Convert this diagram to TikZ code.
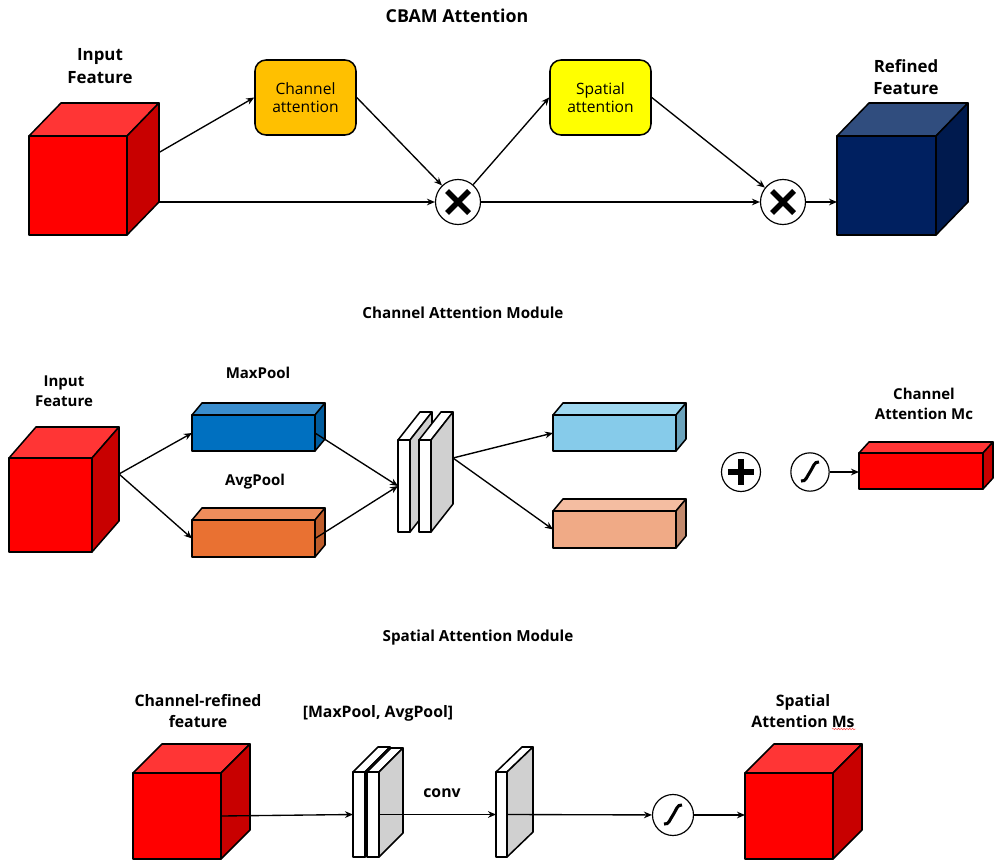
\documentclass[tikz,border=0pt]{standalone}
\usepackage{fontspec}
\setmainfont{Open Sans}
\usetikzlibrary{arrows.meta,decorations.pathmorphing}

% colour sets: F front, T top, S side
\definecolor{crF}{HTML}{FF0000}\definecolor{crT}{HTML}{FF3535}\definecolor{crS}{HTML}{C80000}
\definecolor{cnF}{HTML}{002060}\definecolor{cnT}{HTML}{304D7E}\definecolor{cnS}{HTML}{001A4E}
\definecolor{cbF}{HTML}{0070C0}\definecolor{cbT}{HTML}{3A8DCD}\definecolor{cbS}{HTML}{005C9E}
\definecolor{coF}{HTML}{E97132}\definecolor{coT}{HTML}{EE8D5C}\definecolor{coS}{HTML}{BE5C2A}
\definecolor{clF}{HTML}{86CBEA}\definecolor{clT}{HTML}{A0D8F0}\definecolor{clS}{HTML}{6BA3BC}
\definecolor{cpF}{HTML}{F0AA86}\definecolor{cpT}{HTML}{F4BDA1}\definecolor{cpS}{HTML}{C2896C}
\definecolor{cwF}{HTML}{FFFFFF}\definecolor{cwT}{HTML}{FFFFFF}\definecolor{cwS}{HTML}{D0D0D0}
\definecolor{chanfill}{HTML}{FFC000}
\definecolor{spatfill}{HTML}{FFFF00}

\tikzset{
  face/.style={line width=1.3pt, line join=round},
  conn/.style={-{Stealth[length=2.4mm,width=2mm]}, line width=1.15pt},
  ttl/.style={font=\bfseries\fontsize{13}{16}\selectfont},
  lbl/.style={font=\bfseries\fontsize{14.4}{19}\selectfont, align=center},
  lblm/.style={font=\bfseries\fontsize{12.8}{17.5}\selectfont, align=center},
  lbls/.style={font=\bfseries\fontsize{13.5}{17.5}\selectfont, align=center},
  attn/.style={draw, line width=1.3pt, rounded corners=0.33cm, minimum width=3.03cm,
    minimum height=2.25cm, align=center, font=\fontsize{13.3}{15.5}\selectfont},
  op/.style={circle, draw, fill=white, line width=1pt, inner sep=0pt},
  mult/.style={op, minimum size=1.35cm, path picture={
    \draw[line width=4.6pt] ([shift={(-11,-11)}]path picture bounding box.center)
      -- ([shift={(11,11)}]path picture bounding box.center);
    \draw[line width=4.6pt] ([shift={(-11,11)}]path picture bounding box.center)
      -- ([shift={(11,-11)}]path picture bounding box.center);}},
  plus/.style={op, minimum size=1.17cm, path picture={
    \draw[line width=4.5pt] ([shift={(-13,0)}]path picture bounding box.center)
      -- ([shift={(13,0)}]path picture bounding box.center);
    \draw[line width=4.5pt] ([shift={(0,-13)}]path picture bounding box.center)
      -- ([shift={(0,13)}]path picture bounding box.center);}},
  sigm/.style={op, minimum size=#1, path picture={
    \draw[line width=2.6pt] ([shift={(-9,9)}]path picture bounding box.center)
      .. controls ([shift={(-4,10)}]path picture bounding box.center)
      and ([shift={(-3,4)}]path picture bounding box.center)
      .. (path picture bounding box.center)
      .. controls ([shift={(3,-4)}]path picture bounding box.center)
      and ([shift={(4,-11)}]path picture bounding box.center)
      .. ([shift={(9,-10)}]path picture bounding box.center);}},
}

% name, x, y, w, h, dx, dy, colour set
\newcommand{\cuboid}[8]{%
  \node[inner sep=0pt, outer sep=0pt, minimum width=#4*0.03cm, minimum height=#5*0.03cm,
    anchor=north west] (#1) at (#2,#3) {};
  \node[inner sep=0pt, outer sep=0pt, minimum width=#4*0.03cm, minimum height=#5*0.03cm,
    anchor=north west] (#1b) at ({#2+#6},{#3+#7}) {};
  \filldraw[face, fill=#8T] (#1.north west) -- (#1b.north west) -- (#1b.north east)
    -- (#1.north east) -- cycle;
  \filldraw[face, fill=#8S] (#1.north east) -- (#1b.north east) -- (#1b.south east)
    -- (#1.south east) -- cycle;
  \filldraw[face, fill=#8F] (#1.north west) rectangle (#1.south east);
}

\begin{document}
\begin{tikzpicture}[x=0.03cm, y=-0.03cm]
\useasboundingbox[fill=white] (0,0) rectangle (1000,868);

% CBAM overview
\node[ttl, font=\bfseries\fontsize{15.2}{18}\selectfont] (title1) at (457,16) {CBAM Attention};
\node[lbl] (inlblA) at (100,66) {Input\\Feature};
\node[lbl] (outlblA) at (906,77) {Refined\\Feature};
\cuboid{inA}{29}{136}{98}{99}{32}{-33}{cr}
\cuboid{outA}{837}{136}{99}{99}{32}{-33}{cn}
\node[attn, fill=chanfill] (cha) at (305.5,97.5) {Channel\\attention};
\node[attn, fill=spatfill] (spa) at (600.5,97.5) {Spatial\\attention};
\node[mult] (m1) at (458,202) {};
\node[mult] (m2) at (783,202) {};
\draw[conn] (inAb.east) -- (cha.west);
\draw[conn] (inAb.south east) -- (m1);
\draw[conn] (cha.east) -- (m1);
\draw[conn] (m1) -- (spa.west);
\draw[conn] (m1) -- (m2);
\draw[conn] (spa.east) -- (m2);
\draw[conn] (m2) -- (m2 -| outA.west);

% channel attention module
\node[ttl] (title2) at (463,313) {Channel Attention Module};
\node[lblm] (inlblB) at (64,391) {Input\\Feature};
\node[lblm] (maxlbl) at (258,373) {MaxPool};
\node[lblm] (avglbl) at (255,482) {AvgPool};
\node[lblm] (mclbl) at (924,404) {Channel\\Attention Mc};
\cuboid{inB}{9}{458}{83}{94}{27}{-31}{cr}
\cuboid{maxp}{192}{415}{123}{36}{10}{-12}{cb}
\cuboid{avgp}{192}{520}{123}{37}{10}{-12}{co}
\cuboid{pl1}{398}{440}{12}{92}{22}{-28}{cw}
\cuboid{pl2}{419}{440}{12}{92}{22}{-28}{cw}
\cuboid{mlpa}{553}{415}{123}{36}{10}{-12}{cl}
\cuboid{mlpb}{553}{511}{123}{37}{10}{-12}{cp}
\cuboid{mc}{859}{453}{124}{36}{10}{-11}{cr}
\node[plus] (add) at (741,472) {};
\node[sigm=1.15cm] (sg1) at (810,472) {};
\draw[conn] (inBb.east) -- (maxp.west);
\draw[conn] (inBb.east) -- (avgp.west);
\draw[conn] (maxp.east) -- (pl1.west);
\draw[conn] (avgp.east) -- (pl1.west);
\draw[conn] (pl2b.east) -- (mlpa.west);
\draw[conn] (pl2b.east) -- (mlpb.west);
\draw[conn] (sg1) -- (sg1 -| mc.west);

% spatial attention module
\node[ttl] (title3) at (478,638) {Spatial Attention Module};
\node[lbls] (inlblC) at (198,711) {Channel-refined\\feature};
\node[lbls] (catlbl) at (378,713) {[MaxPool, AvgPool]};
\node[lbls] (convlbl) at (442,793) {conv};
\node[lbls] (mslbl) at (803,711) {Spatial\\Attention Ms};
\draw[red!75, line width=0.4pt, decorate, decoration={snake, amplitude=0.6pt, segment length=2.4pt}]
  (832,729) -- (856,729);
\cuboid{inC}{133}{773}{88}{86}{29}{-29}{cr}
\cuboid{pl3}{353}{772}{12}{85}{25}{-25}{cw}
\cuboid{pl4}{367}{772}{12}{85}{24}{-24}{cw}
\cuboid{pl5}{496}{772}{11}{85}{26}{-25}{cw}
\cuboid{outC}{745}{773}{88}{86}{29}{-29}{cr}
\node[sigm=1.23cm] (sg2) at (673,815) {};
\draw[conn] (inC.east) -- (pl3.west);
\draw[conn] (pl4.east) -- (pl5.west);
\draw[conn] (pl5.east) -- (sg2);
\draw[conn] (sg2) -- (sg2 -| outC.west);
\end{tikzpicture}
\end{document}
